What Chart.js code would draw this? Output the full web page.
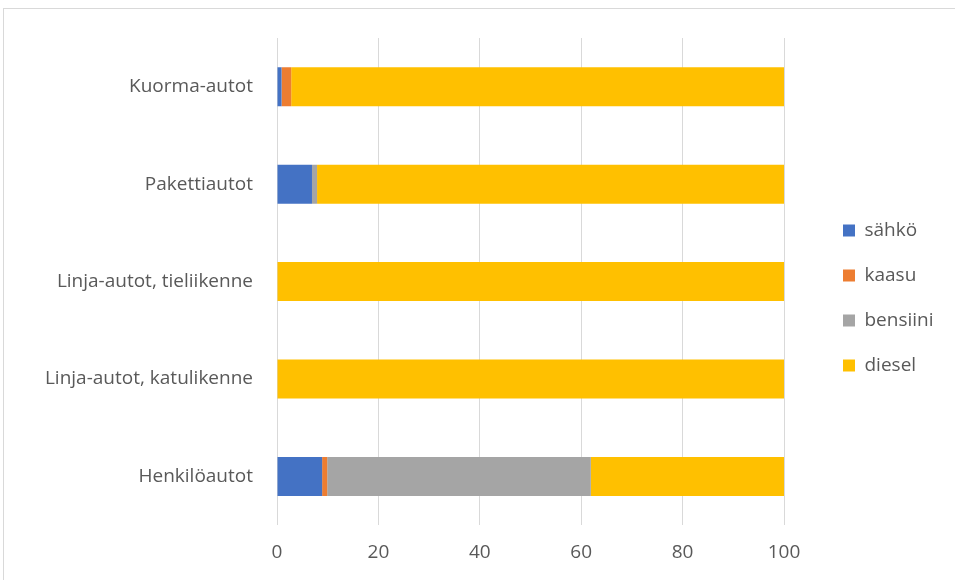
<!DOCTYPE html>
<html>
<head>
<meta charset="utf-8">
<script src="https://cdn.jsdelivr.net/npm/chart.js@4/dist/chart.umd.min.js"></script>
<style>
	body { margin: 0; background: #ffffff; }
	#wrap { position: relative; width: 955px; height: 580px; overflow: hidden; }
	#frame { position: absolute; left: 3px; top: 8px; width: 970px; height: 600px; border: 1px solid #d9d9d9; box-sizing: border-box; }
	#chart { position: absolute; left: 0; top: 0; }
</style>
</head>
<body>
<div id="wrap">
	<div id="frame"></div>
	<canvas id="chart" width="955" height="580"></canvas>
</div>
<script>
// Vehicle categories, top to bottom
const categories = ["Kuorma-autot", "Pakettiautot", "Linja-autot, tieliikenne", "Linja-autot, katulikenne", "Henkilöautot"];

// Share of each power source (%)
const sahko    = [0.9, 6.9, 0, 0, 8.9];
const kaasu    = [1.9, 0, 0, 0, 1.0];
const bensiini = [0, 1.0, 0, 0, 52.0];
const diesel   = [97.2, 92.1, 100, 100, 38.1];

const x_ticks = [0, 20, 40, 60, 80, 100];

const plot_right = 784;    // right edge of plot area
const legend_box_x = 843;  // x of legend colour boxes
const legend_lift = 11;    // legend sits a bit above the middle

Chart.defaults.font.family = 'Open Sans';
Chart.defaults.font.size = 19;
Chart.defaults.color = '#595959';

const ctx = document.getElementById("chart").getContext("2d");

var Share_Plot_Obj = new Chart(ctx, {
	type: "bar",
	data: {
		labels: categories,
		datasets: [
			{ label: "sähkö",    data: sahko,    backgroundColor: "#4472C4" },
			{ label: "kaasu",    data: kaasu,    backgroundColor: "#ED7D31" },
			{ label: "bensiini", data: bensiini, backgroundColor: "#A5A5A5" },
			{ label: "diesel",   data: diesel,   backgroundColor: "#FFC000" }
		]
	},
	options: {
		indexAxis: 'y',
		responsive: false,
		animation: false,
		events: [], // no hover
		datasets: {
			bar: { categoryPercentage: 0.5, barPercentage: 0.8 }
		},
		layout: {
			padding: { left: 18, right: 20, top: 38, bottom: 0 }
		},
		plugins: {
			legend: {
				display: true,
				position: 'right',
				labels: {
					boxWidth: 12,
					boxHeight: 12,
					padding: 26,
					color: '#595959'
				}
			},
			tooltip: { enabled: false }
		},
		scales: {
			x: {
				stacked: true,
				min: 0,
				max: 100,
				afterBuildTicks: function(scale) {
					scale.ticks = x_ticks.map(v => ({ value: v }));
				},
				grid: { color: '#d9d9d9', drawTicks: false, lineWidth: 1 },
				border: { display: false },
				ticks: { padding: 16 }
			},
			y: {
				stacked: true,
				grid: { display: false, drawTicks: false },
				border: { display: false },
				ticks: { padding: 24 },
				afterFit: function(scale) { scale.width = 259; }
			}
		}
	},
	plugins: [{
		// widen the gap between plot area and legend like the original
		id: 'legendGap',
		afterInit: function(chart) {
			const lg = chart.legend;
			const origFit = lg.fit.bind(lg);
			lg.fit = function() {
				origFit();
				this.width = chart.width - chart.options.layout.padding.right - plot_right;
			};
		},
		afterLayout: function(chart) {
			const lg = chart.legend;
			const shift = legend_box_x - lg.options.labels.padding - lg.left;
			lg.left += shift;
			lg.right += shift;
			lg.top -= legend_lift;
			lg.bottom -= legend_lift;
		}
	}]
});
</script>
</body>
</html>
